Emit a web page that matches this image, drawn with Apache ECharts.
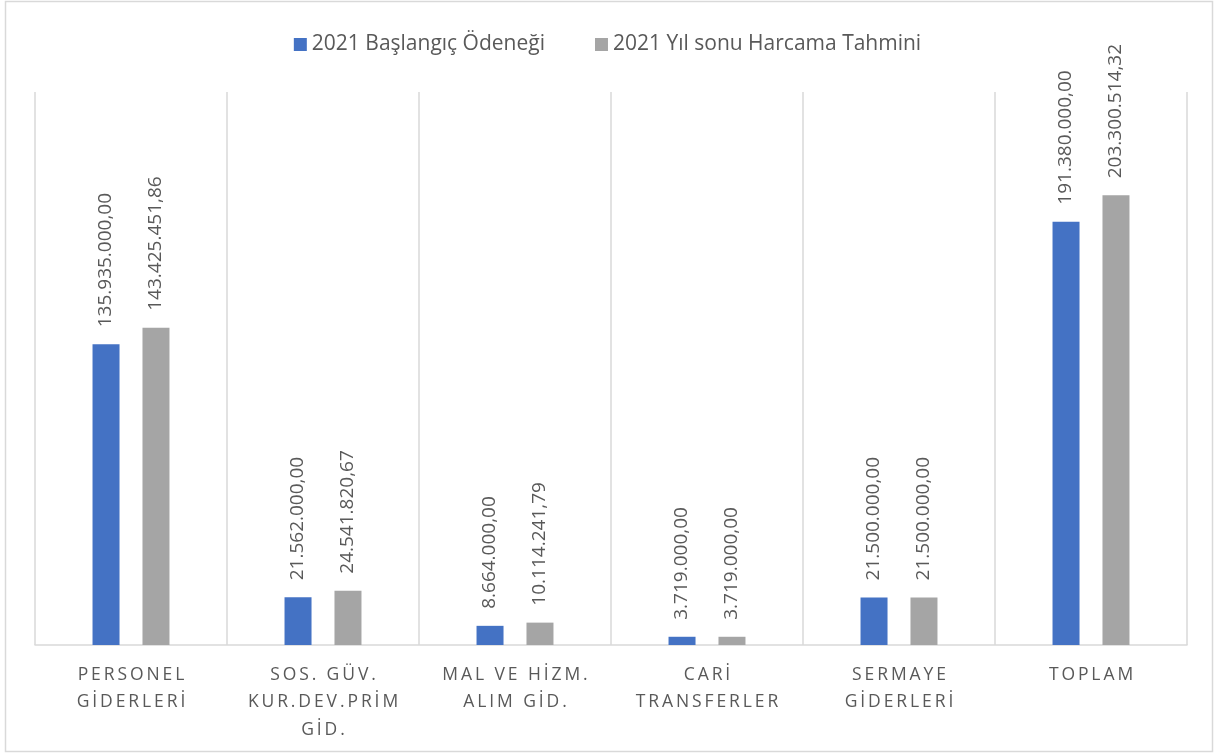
<!DOCTYPE html>
<html>
<head>
<meta charset="utf-8">
<script src="https://cdn.jsdelivr.net/npm/echarts@6/dist/echarts.min.js"></script>
<style>
html,body{margin:0;padding:0;background:#fff;}
#chart{width:1215px;height:753px;}
</style>
</head>
<body>
<div id="chart"></div>
<script>
const categories = ["PERSONEL\nGİDERLERİ", "SOS. GÜV.\nKUR.DEV.PRİM\nGİD.", "MAL VE HİZM.\nALIM GİD.", "CARİ\nTRANSFERLER", "SERMAYE\nGİDERLERİ", "TOPLAM"];
const seriesNames = ["2021 Başlangıç Ödeneği", "2021 Yıl sonu Harcama Tahmini"];
const baslangic = [135935000.00, 21562000.00, 8664000.00, 3719000.00, 21500000.00, 191380000.00];
const tahmin = [143425451.86, 24541820.67, 10114241.79, 3719000.00, 21500000.00, 203300514.32];

function fmtTR(v) {
  const parts = Number(v).toFixed(2).split('.');
  return parts[0].replace(/\B(?=(\d{3})+(?!\d))/g, '.') + ',' + parts[1];
}
function spaced(s) {
  return s.split('\n').map(l => l.split('').join('\u2009')).join('\n');
}

const FONT = '"Open Sans", "Liberation Sans", sans-serif';
const labelCfg = {
  show: true, position: 'top', rotate: 90, align: 'left', verticalAlign: 'middle',
  distance: 17, color: '#595959', fontSize: 19, fontFamily: FONT,
  formatter: p => fmtTR(p.value)
};

const chart = echarts.init(document.getElementById('chart'), null, {renderer: 'canvas'});
chart.setOption({
  backgroundColor: '#ffffff',
  textStyle: {fontFamily: FONT},
  graphic: [{
    type: 'rect', shape: {x: 5.5, y: 1.5, width: 1207, height: 750},
    style: {fill: 'none', stroke: '#d9d9d9', lineWidth: 1.5}, silent: true, z: -1
  }],
  legend: {
    top: 29, left: 'center', itemWidth: 13, itemHeight: 13, itemGap: 50,
    icon: 'rect',
    textStyle: {color: '#595959', fontSize: 21, fontFamily: FONT},
    data: seriesNames
  },
  grid: {left: 35, right: 28, top: 92, bottom: 108, containLabel: false},
  xAxis: {
    type: 'category', data: categories,
    axisLine: {lineStyle: {color: '#d9d9d9', width: 1.5}},
    axisTick: {show: false},
    splitLine: {show: true, lineStyle: {color: '#d9d9d9', width: 1.5}},
    axisLabel: {
      color: '#595959', fontSize: 17.5, fontFamily: FONT, margin: 16, lineHeight: 27.5,
      interval: 0, formatter: v => spaced(v)
    }
  },
  yAxis: {
    type: 'value', min: 0, max: 250000000,
    axisLabel: {show: false}, axisLine: {show: false}, axisTick: {show: false},
    splitLine: {show: false}
  },
  series: [
    {name: seriesNames[0], type: 'bar', data: baslangic, barWidth: 27, barGap: '85%',
     itemStyle: {color: '#4472C4'}, label: labelCfg},
    {name: seriesNames[1], type: 'bar', data: tahmin, barWidth: 27, barGap: '85%',
     itemStyle: {color: '#A5A5A5'}, label: labelCfg}
  ]
});
</script>
</body>
</html>
